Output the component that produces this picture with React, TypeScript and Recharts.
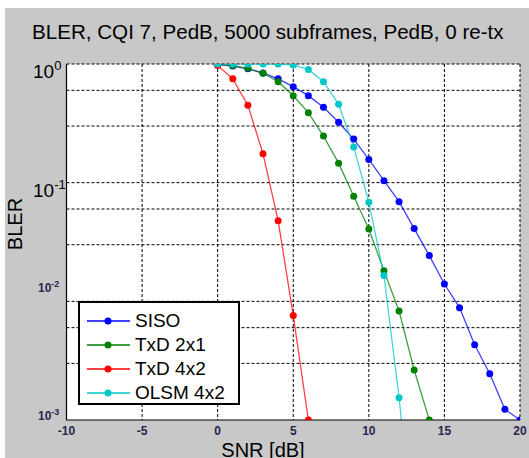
import { LineChart, Line, XAxis, YAxis, CartesianGrid } from "recharts";

// BLER vs SNR, CQI 7, PedB, 0 re-tx
const SNR_SISO = [0, 1, 2, 3, 4, 5, 6, 7, 8, 9, 10, 11, 12, 13, 14, 15, 16, 17, 18, 19, 20];
const BLER_SISO = [
  0.99, 0.96, 0.91, 0.84, 0.75, 0.644, 0.541, 0.432, 0.323, 0.233, 0.157,
  0.104, 0.0692, 0.041, 0.0243, 0.014, 0.00885, 0.0043, 0.00245, 0.00123, 0.001,
];

const SNR_TXD21 = [0, 1, 2, 3, 4, 5, 6, 7, 8, 9, 10, 11, 12, 13, 14];
const BLER_TXD21 = [
  0.99, 0.97, 0.92, 0.835, 0.71, 0.54, 0.389, 0.247, 0.146, 0.0768, 0.0407,
  0.0181, 0.0083, 0.00264, 0.001,
];

const SNR_TXD42 = [0, 1, 2, 3, 4, 5, 6];
const BLER_TXD42 = [0.97, 0.75, 0.45, 0.175, 0.0478, 0.0076, 0.001];

// last point falls below the axis and gets clipped
const SNR_OLSM = [0, 1, 2, 3, 4, 5, 6, 7, 8, 9, 10, 11, 12, 13];
const BLER_OLSM = [
  1.0, 1.0, 1.0, 1.0, 1.0, 0.98, 0.9, 0.71, 0.457, 0.2, 0.0684, 0.0165, 0.00154, 0.0001,
];

const X_TICKS = [-10, -5, 0, 5, 10, 15, 20];
const Y_TICKS = [0.001, 0.01, 0.1, 1];
const X_GRID = [-5, 0, 5, 10, 15, 20];
const Y_GRID = [
  0.002, 0.003, 0.004, 0.005, 0.006, 0.007, 0.008, 0.009, 0.01,
  0.02, 0.03, 0.04, 0.05, 0.06, 0.07, 0.08, 0.09, 0.1,
  0.2, 0.3, 0.4, 0.5, 0.6, 0.7, 0.8, 0.9, 1,
];

const SERIES = [
  { name: "SISO", snr: SNR_SISO, bler: BLER_SISO, color: "#0000ff" },
  { name: "TxD 2x1", snr: SNR_TXD21, bler: BLER_TXD21, color: "#008000" },
  { name: "TxD 4x2", snr: SNR_TXD42, bler: BLER_TXD42, color: "#ff0000" },
  { name: "OLSM 4x2", snr: SNR_OLSM, bler: BLER_OLSM, color: "#00c8c8" },
];

const FONT = "Arial, 'Liberation Sans', sans-serif";

function YTick(props: any) {
  const { y, payload } = props;
  const exp = Math.round(Math.log10(payload.value));
  // the two upper labels come out big in the original figure, the two lower small
  if (exp >= -1) {
    return (
      <text x={33} y={y + 14} fontSize={19} fill="#000" fontFamily={FONT}>
        10
        <tspan dy={-8} fontSize={13}>
          {exp}
        </tspan>
      </text>
    );
  }
  return (
    <text
      x={38}
      y={exp === -2 ? y - 9 : y}
      fontSize={12}
      fontWeight="bold"
      fill="#262650"
      fontFamily={FONT}
    >
      10
      <tspan dy={-5} fontSize={9}>
        {exp}
      </tspan>
    </text>
  );
}

function XTick(props: any) {
  const { x, payload } = props;
  return (
    <text
      x={x}
      y={435}
      textAnchor="middle"
      fontSize={12}
      fontWeight="bold"
      fill="#262650"
      fontFamily={FONT}
    >
      {payload.value}
    </text>
  );
}

export default function App() {
  return (
    <div
      style={{
        position: "fixed",
        left: 0,
        top: 0,
        width: 529,
        height: 458,
        background: "#fff",
        overflow: "hidden",
        fontFamily: FONT,
      }}
    >
      <div
        style={{ position: "absolute", left: 5, top: 8, right: 0, bottom: 0, background: "#c8c8c8" }}
      />
      <div
        style={{
          position: "absolute",
          left: 32,
          top: 21,
          fontSize: 20.6,
          lineHeight: "22px",
          color: "#000",
          whiteSpace: "nowrap",
        }}
      >
        BLER, CQI 7, PedB, 5000 subframes, PedB, 0 re-tx
      </div>
      <div
        style={{
          position: "absolute",
          left: 15,
          top: 224,
          fontSize: 20,
          lineHeight: "20px",
          transform: "translate(-50%, -50%) rotate(-90deg)",
          whiteSpace: "nowrap",
        }}
      >
        BLER
      </div>
      <div
        style={{
          position: "absolute",
          left: 263,
          top: 440,
          fontSize: 20,
          lineHeight: "20px",
          transform: "translateX(-50%)",
          whiteSpace: "nowrap",
        }}
      >
        SNR [dB]
      </div>
      <div style={{ position: "absolute", left: 0, top: 0 }}>
        <LineChart width={529} height={458} margin={{ top: 64, right: 9, left: 0.5, bottom: 8 }}>
          <CartesianGrid
            fill="#fff"
            stroke="#000"
            strokeDasharray="3 2"
            horizontalValues={Y_GRID}
            verticalValues={X_GRID}
          />
          <XAxis
            type="number"
            dataKey="snr"
            domain={[-10, 20]}
            ticks={X_TICKS}
            allowDataOverflow
            height={30}
            tickLine={false}
            axisLine={{ stroke: "#000", strokeWidth: 1.2 }}
            tick={<XTick />}
          />
          <YAxis
            type="number"
            dataKey="bler"
            scale="log"
            domain={[0.001, 1]}
            ticks={Y_TICKS}
            allowDataOverflow
            width={66}
            tickLine={false}
            axisLine={{ stroke: "#000", strokeWidth: 1.2 }}
            tick={<YTick />}
          />
          {SERIES.map((s) => (
            <Line
              key={s.name}
              name={s.name}
              data={s.snr.map((v, i) => ({ snr: v, bler: s.bler[i] }))}
              dataKey="bler"
              stroke={s.color}
              strokeWidth={1.3}
              strokeOpacity={0.75}
              dot={{ r: 3.5, fill: s.color, stroke: s.color, strokeWidth: 0 }}
              isAnimationActive={false}
            />
          ))}
        </LineChart>
      </div>
      <div
        style={{
          position: "absolute",
          left: 78,
          top: 301,
          width: 158,
          height: 100,
          border: "2px solid #000",
          background: "#fff",
        }}
      >
        {SERIES.map((s, i) => (
          <div
            key={s.name}
            style={{
              position: "absolute",
              left: 0,
              top: 6 + i * 24,
              height: 24,
              display: "flex",
              alignItems: "center",
            }}
          >
            <svg width={55} height={24} style={{ display: "block" }}>
              <line x1={7} y1={12} x2={50} y2={12} stroke={s.color} strokeWidth={1.3} />
              <circle cx={28} cy={12} r={3.5} fill={s.color} />
            </svg>
            <span style={{ fontSize: 19, color: "#000", lineHeight: "24px" }}>{s.name}</span>
          </div>
        ))}
      </div>
    </div>
  );
}
